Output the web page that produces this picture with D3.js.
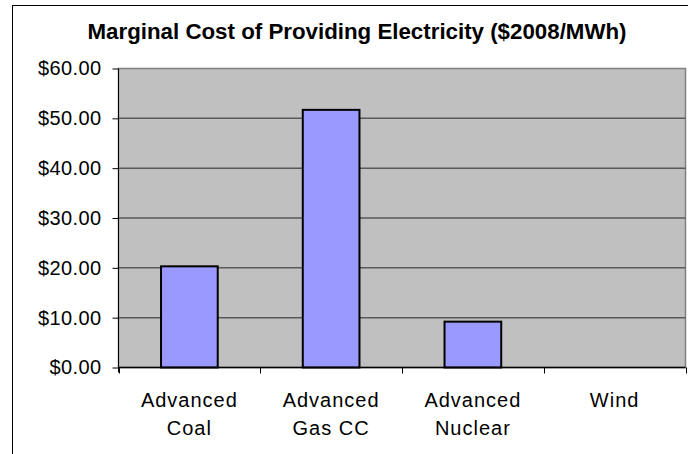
<!DOCTYPE html>
<html>
<head>
<meta charset="utf-8">
<script src="https://cdn.jsdelivr.net/npm/d3@7"></script>
<style>
  body { margin: 0; background: #fff; }
  text { font-family: "Liberation Sans", Arial, sans-serif; }
</style>
</head>
<body>
<div id="chart"></div>
<script>
(function(){
    var width = 688,
        height = 454;

    // data
    var categories = ["Advanced Coal", "Advanced Gas CC", "Advanced Nuclear", "Wind"];
    var labelLines = [["Advanced", "Coal"], ["Advanced", "Gas CC"], ["Advanced", "Nuclear"], ["Wind"]];
    var costs = [20.3, 51.7, 9.2, 0];
    var yTicks = [0, 10, 20, 30, 40, 50, 60];
    var title = "Marginal Cost of Providing Electricity ($2008/MWh)";

    var plot = {left: 118.5, right: 685.5, top: 68.5, bottom: 367.5};

    var svg = d3.select("#chart")
      .append("svg")
      .attr("width", width)
      .attr("height", height)

    // outer chart frame, runs off the right and bottom edge
    svg.append("rect")
      .attr("x", 12.5).attr("y", 5.5)
      .attr("width", 700).attr("height", 470)
      .attr("fill", "#fff")
      .attr("stroke", "#000")

    svg.append("text")
      .attr("x", 357).attr("y", 39)
      .attr("text-anchor", "middle")
      .attr("font-weight", "bold")
      .attr("font-size", 22)
      .attr("textLength", 539)
      .attr("lengthAdjust", "spacingAndGlyphs")
      .text(title)

    var x = d3.scaleBand()
      .domain(categories)
      .range([plot.left, plot.right])
      .paddingInner(0.6)
      .paddingOuter(0.3)

    var xOuter = d3.scaleBand()
      .domain(categories)
      .range([plot.left, plot.right])

    var y = d3.scaleLinear()
      .domain([0, 60])
      .range([plot.bottom, plot.top])

    // plot area
    svg.append("rect")
      .attr("x", plot.left).attr("y", plot.top)
      .attr("width", plot.right - plot.left)
      .attr("height", plot.bottom - plot.top)
      .attr("fill", "#c0c0c0")
      .attr("stroke", "#808080")
      .attr("stroke-width", 1.5)

    // gridlines
    svg.append("g").selectAll("line")
      .data(yTicks.filter(function(d){ return d > 0 && d < 60 }))
      .enter().append("line")
      .attr("x1", plot.left).attr("x2", plot.right)
      .attr("y1", function(d){ return y(d) })
      .attr("y2", function(d){ return y(d) })
      .attr("stroke", "#595959")
      .attr("stroke-width", 1.5)

    // bars
    svg.append("g").selectAll("rect")
      .data(costs)
      .enter().append("rect")
      .attr("x", function(d, i){ return x(categories[i]) })
      .attr("width", x.bandwidth())
      .attr("y", function(d){ return y(d) })
      .attr("height", function(d){ return plot.bottom - y(d) })
      .attr("fill", function(d){ return d > 0 ? "#9999ff" : "none" })
      .attr("stroke", function(d){ return d > 0 ? "#000" : "none" })
      .attr("stroke-width", 2)

    // y axis
    var yAxis = d3.axisLeft(y)
      .tickValues(yTicks)
      .tickSize(6)
      .tickPadding(11)
      .tickFormat(function(d){ return "$" + d3.format(".2f")(d) })

    var gy = svg.append("g")
      .attr("transform", "translate(" + plot.left + ",0)")
      .call(yAxis)
    gy.select(".domain").attr("stroke", "#000").attr("d", "M0," + plot.top + "V" + (plot.bottom + 5))
    gy.selectAll(".tick line").attr("stroke", "#000")
    gy.selectAll(".tick text")
      .attr("font-family", "Liberation Sans, Arial, sans-serif")
      .attr("font-size", 20)
      .attr("fill", "#000")
      .attr("letter-spacing", 0.4)

    // x axis line and category ticks
    svg.append("line")
      .attr("x1", plot.left).attr("x2", plot.right)
      .attr("y1", plot.bottom).attr("y2", plot.bottom)
      .attr("stroke", "#000").attr("stroke-width", 1.5)

    var bounds = categories.map(function(c){ return xOuter(c) }).concat([plot.right])
    svg.append("g").selectAll("line")
      .data(bounds)
      .enter().append("line")
      .attr("x1", function(d){ return Math.round(d) + 0.5 })
      .attr("x2", function(d){ return Math.round(d) + 0.5 })
      .attr("y1", plot.bottom).attr("y2", plot.bottom + 6)
      .attr("stroke", "#000")

    // category labels
    var labels = svg.append("g").selectAll("text")
      .data(categories)
      .enter().append("text")
      .attr("x", function(c){ return xOuter(c) + xOuter.bandwidth() / 2 })
      .attr("y", 407)
      .attr("text-anchor", "middle")
      .attr("font-size", 20)
      .attr("letter-spacing", 1)

    labels.selectAll("tspan")
      .data(function(c, i){ return labelLines[i] })
      .enter().append("tspan")
      .attr("x", function(){ var p = this.parentNode; return p.getAttribute("x") })
      .attr("dy", function(d, i){ return i === 0 ? 0 : 28 })
      .text(function(d){ return d })

})();
</script>
</body>
</html>
